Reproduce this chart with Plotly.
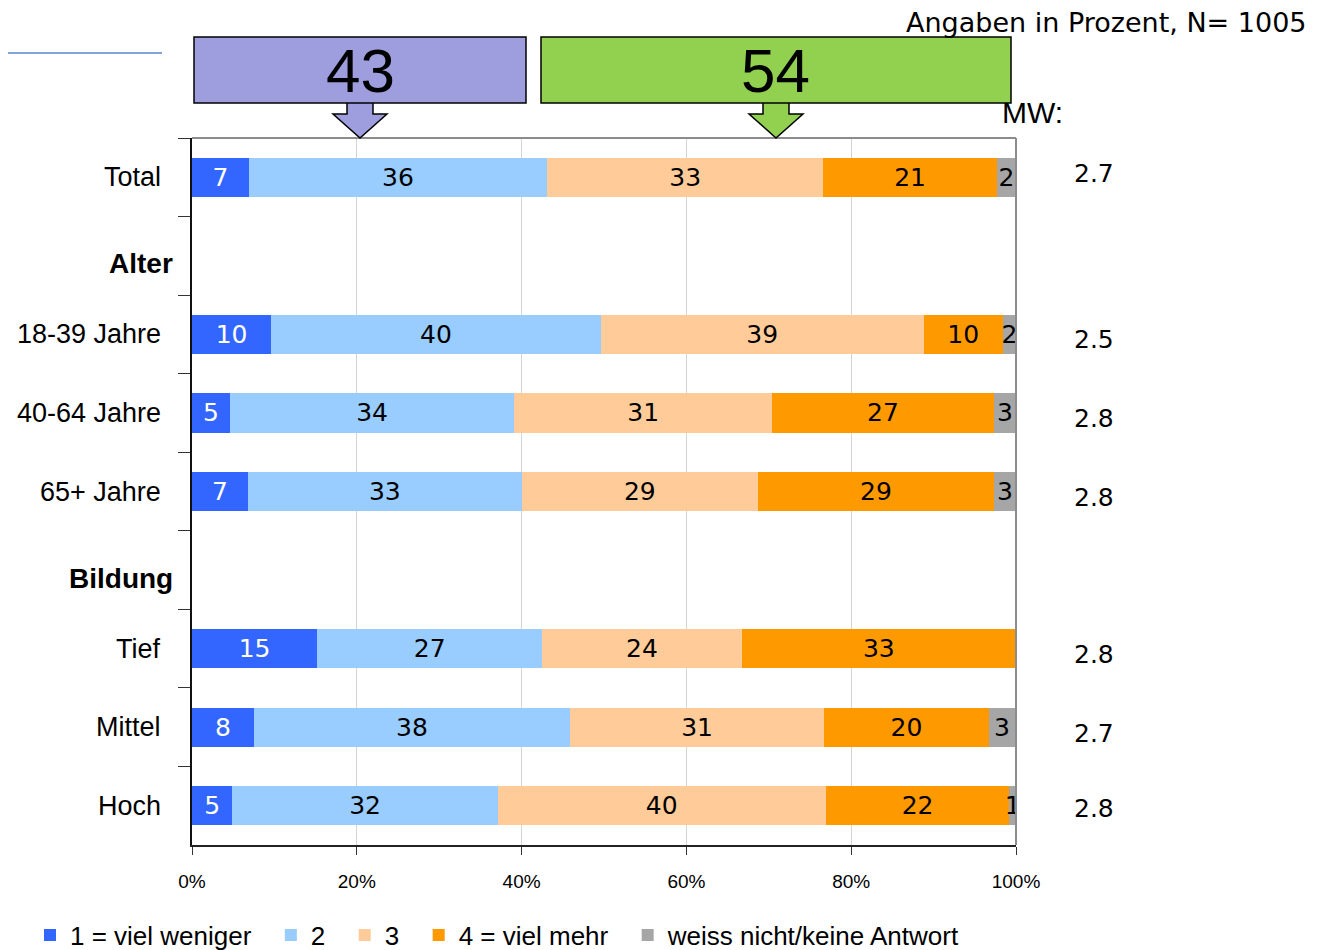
import plotly.graph_objects as go

# ---------------- data ----------------
categories = ["Total", "Alter", "18-39 Jahre", "40-64 Jahre", "65+ Jahre",
              "Bildung", "Tief", "Mittel", "Hoch"]
header_rows = ["Alter", "Bildung"]

series_names = ["1 = viel weniger", "2", "3", "4 = viel mehr", "weiss nicht/keine Antwort"]
# bar lengths (percent)
s1 = [6.9, None, 9.6, 4.6, 6.8, None, 15.2, 7.5, 4.9]
s2 = [36.2, None, 40.0, 34.5, 33.2, None, 27.3, 38.4, 32.2]
s3 = [33.5, None, 39.2, 31.3, 28.7, None, 24.2, 30.8, 39.8]
s4 = [21.1, None, 9.6, 26.9, 28.6, None, 33.3, 20.0, 22.3]
s5 = [2.3, None, 1.6, 2.7, 2.7, None, 0.0, 3.2, 0.8]
# printed labels
l1 = ["7", "", "10", "5", "7", "", "15", "8", "5"]
l2 = ["36", "", "40", "34", "33", "", "27", "38", "32"]
l3 = ["33", "", "39", "31", "29", "", "24", "31", "40"]
l4 = ["21", "", "10", "27", "29", "", "33", "20", "22"]
l5 = ["2", "", "2", "3", "3", "", "", "3", "1"]
mw_values = ["2.7", "", "2.5", "2.8", "2.8", "", "2.8", "2.7", "2.8"]

summary_low = "43"
summary_high = "54"
title_text = "Angaben in Prozent, N= 1005"
x_ticks = [0, 20, 40, 60, 80, 100]
x_ticklabels = ["0%", "20%", "40%", "60%", "80%", "100%"]

colors = ["#3366ff", "#99ccff", "#ffcc99", "#ff9900", "#a6a6a6"]
text_colors = ["white", "black", "black", "black", "black"]

# ---------------- figure ----------------
# page body has an 8px margin; figure is sized so the page is 1318x950
OFF = 8
W, H = 1318 - OFF, 950 - OFF
PL, PR, PT, PB = 192, 1016, 138, 845          # plot area in page pixels
ML, MT = PL - OFF, PT - OFF
MR = W - (ML + (PR - PL))
MB = H - (MT + (PB - PT))
PW, PH = PR - PL, PB - PT


def px(x):
    return (x - PL) / PW


def py(y):
    return (PB - y) / PH


NUM_FONT = "DejaVu Sans"
LBL_FONT = "Liberation Sans"
PAD = "\u00a0\u00a0"   # extra spacing between legend entries
fig = go.Figure()
for name, vals, labs, col, tcol in zip(series_names, [s1, s2, s3, s4, s5],
                                        [l1, l2, l3, l4, l5], colors, text_colors):
    fig.add_trace(go.Bar(
        y=categories, x=vals, name=name + PAD, orientation="h",
        marker=dict(color=col, line=dict(width=0)),
        text=labs, textposition="inside", insidetextanchor="middle",
        textangle=0, constraintext="none",
        textfont=dict(color=tcol, size=25, family=NUM_FONT),
        hoverinfo="skip",
    ))

annotations = []
# category labels
for cat in categories:
    if cat in header_rows:
        annotations.append(dict(
            x=px(175), y=cat, xref="paper", yref="y", xanchor="right", yanchor="middle",
            text="<b>" + cat + "</b>", showarrow=False,
            yshift=-8, font=dict(size=28, family=LBL_FONT, color="black")))
    else:
        annotations.append(dict(
            x=px(163), y=cat, xref="paper", yref="y", xanchor="right", yanchor="middle",
            text=cat, showarrow=False,
            font=dict(size=27, family=LBL_FONT, color="black")))
# MW column
annotations.append(dict(x=px(1032), y=py(112), xref="paper", yref="paper",
                        xanchor="center", yanchor="middle", text="MW:", showarrow=False,
                        font=dict(size=30, family=LBL_FONT, color="black")))
mw_yshift = [4, 0, -5, -6, -6, 0, -6, -6, -3]
for cat, mw, ys in zip(categories, mw_values, mw_yshift):
    if mw:
        annotations.append(dict(x=px(1094), y=cat, xref="paper", yref="y",
                                xanchor="center", yanchor="middle", text=mw, showarrow=False,
                                yshift=ys,
                                font=dict(size=25, family=NUM_FONT, color="black")))
# title
annotations.append(dict(x=px(1309), y=py(22), xref="paper", yref="paper",
                        xanchor="right", yanchor="middle", text=title_text, showarrow=False,
                        font=dict(size=27, family=NUM_FONT, color="black")))
# summary boxes text
annotations.append(dict(x=px(360), y=py(71), xref="paper", yref="paper",
                        xanchor="center", yanchor="middle",
                        text=summary_low, showarrow=False,
                        font=dict(size=62, family=LBL_FONT, color="black")))
annotations.append(dict(x=px(775), y=py(71), xref="paper", yref="paper",
                        xanchor="center", yanchor="middle",
                        text=summary_high, showarrow=False,
                        font=dict(size=62, family=LBL_FONT, color="black")))


def arrow_path(xc, top, bottom, stem_half, head_half, head_top):
    pts = [(xc - stem_half, top), (xc + stem_half, top), (xc + stem_half, head_top),
           (xc + head_half, head_top), (xc, bottom), (xc - head_half, head_top),
           (xc - stem_half, head_top)]
    return "M " + " L ".join(f"{px(a):.5f},{py(b):.5f}" for a, b in pts) + " Z"


shapes = [
    # blue rule top-left
    dict(type="line", xref="paper", yref="paper", x0=px(0), x1=px(162),
         y0=py(53), y1=py(53), line=dict(color="#7fa6d6", width=2)),
    # plot border top and right
    dict(type="line", xref="paper", yref="paper", x0=0, x1=1, y0=1, y1=1,
         line=dict(color="#8c8c8c", width=2)),
    dict(type="line", xref="paper", yref="paper", x0=1, x1=1, y0=0, y1=1,
         line=dict(color="#8c8c8c", width=2)),
    # arrows (drawn before boxes)
    dict(type="path", xref="paper", yref="paper",
         path=arrow_path(360, 100, 138, 13, 27, 114),
         fillcolor="#9e9ede", line=dict(color="black", width=1.5)),
    dict(type="path", xref="paper", yref="paper",
         path=arrow_path(776, 100, 138, 13, 27, 114),
         fillcolor="#92d050", line=dict(color="black", width=1.5)),
    # boxes
    dict(type="rect", xref="paper", yref="paper", x0=px(194), x1=px(526),
         y0=py(103), y1=py(37), fillcolor="#9e9ede", line=dict(color="black", width=1.5)),
    dict(type="rect", xref="paper", yref="paper", x0=px(541), x1=px(1011),
         y0=py(103), y1=py(37), fillcolor="#92d050", line=dict(color="black", width=1.5)),
]

fig.update_layout(
    width=W, height=H,
    margin=dict(l=ML, r=MR, t=MT, b=MB, autoexpand=False),
    barmode="stack", bargap=0.5,
    plot_bgcolor="white", paper_bgcolor="white",
    font=dict(family=LBL_FONT, color="black"),
    annotations=annotations, shapes=shapes,
    xaxis=dict(range=[0, 100], tickvals=x_ticks, ticktext=x_ticklabels,
               showgrid=True, gridcolor="#d4d4d4", gridwidth=1,
               ticks="outside", ticklen=8, tickcolor="#333333",
               ticklabelstandoff=10,
               showline=True, linecolor="#222222", linewidth=2,
               tickfont=dict(size=19, family=LBL_FONT),
               zeroline=False, fixedrange=True),
    yaxis=dict(categoryorder="array", categoryarray=categories,
               range=[8.5, -0.5], showticklabels=False,
               ticks="outside", tickson="boundaries", ticklen=12, tickcolor="#333333",
               showline=True, linecolor="#111111", linewidth=2,
               showgrid=False, zeroline=False, fixedrange=True),
    legend=dict(orientation="h", x=px(30), xanchor="left", y=py(935), yanchor="middle",
                font=dict(size=26, family=LBL_FONT),
                itemwidth=30, traceorder="normal", tracegroupgap=0,
                bgcolor="rgba(0,0,0,0)"),
)

fig.write_html("out.html")
